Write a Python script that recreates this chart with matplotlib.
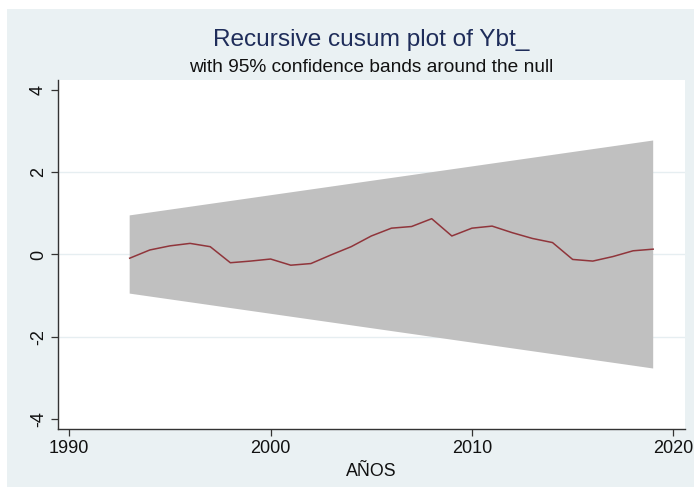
import matplotlib
matplotlib.use("Agg")
import matplotlib.pyplot as plt
from matplotlib.patches import Rectangle

plt.rcParams['font.family'] = ['Liberation Sans', 'DejaVu Sans']

# Recursive CUSUM statistic by year
years = [1993, 1994, 1995, 1996, 1997, 1998, 1999, 2000, 2001, 2002, 2003,
         2004, 2005, 2006, 2007, 2008, 2009, 2010, 2011, 2012, 2013, 2014,
         2015, 2016, 2017, 2018, 2019]
cusum = [-0.09, 0.11, 0.21, 0.27, 0.19, -0.20, -0.16, -0.11, -0.26, -0.22, -0.01,
         0.19, 0.45, 0.64, 0.68, 0.87, 0.45, 0.64, 0.69, 0.53, 0.39, 0.29,
         -0.12, -0.16, -0.05, 0.09, 0.13]

# 95% confidence band endpoints around the null
band_years = [1993, 2019]
band_upper = [0.95, 2.77]
band_lower = [-0.95, -2.77]

yticks = [-4, -2, 0, 2, 4]
xticks = [1990, 2000, 2010, 2020]

W, H, DPI = 694, 488, 100
bg = '#EAF1F3'

fig = plt.figure(figsize=(W / DPI, H / DPI), dpi=DPI, facecolor='white')
# outer shaded graph region
fig.patches.append(Rectangle((7 / W, 1 / H), 1 - 7 / W, 1 - 10 / H,
                             transform=fig.transFigure, facecolor=bg,
                             edgecolor='none', zorder=-10))

left, right, top, bottom = 58, 685, 80, 429
ax = fig.add_axes([left / W, 1 - bottom / H, (right - left) / W, (bottom - top) / H])
ax.set_facecolor('white')

ax.fill_between(band_years, band_lower, band_upper, facecolor='#C0C0C0',
                edgecolor='none', zorder=2)
ax.plot(years, cusum, color='#90353B', lw=1.1, zorder=3)

for g in [-2, 0, 2]:
    ax.axhline(g, color='#E6EEF1', lw=1.0, zorder=1)

ax.set_xlim(1989.44, 2020.58)
ax.set_ylim(-4.24, 4.24)
ax.set_xticks(xticks)
ax.set_yticks(yticks)
ax.set_yticklabels([str(t) for t in yticks], rotation=90, va='center')

for s in ['top', 'right']:
    ax.spines[s].set_visible(False)
for s in ['left', 'bottom']:
    ax.spines[s].set_color('#333333')
    ax.spines[s].set_linewidth(1.0)
ax.tick_params(direction='out', length=5, width=0.9, color='#333333',
               labelsize=13, labelcolor='#111111', pad=3)

ax.set_xlabel('AÑOS', fontsize=12.8, color='#111111', labelpad=4)

cx = ((left + right) / 2) / W
fig.text(cx, 1 - 40 / H, 'Recursive cusum plot of Ybt_', ha='center', va='center',
         fontsize=17.6, color='#1F2D5A')
fig.text(cx, 1 - 67 / H, 'with 95% confidence bands around the null', ha='center',
         va='center', fontsize=13.8, color='#111111')

fig.savefig('out.png', dpi=DPI, facecolor='white')
